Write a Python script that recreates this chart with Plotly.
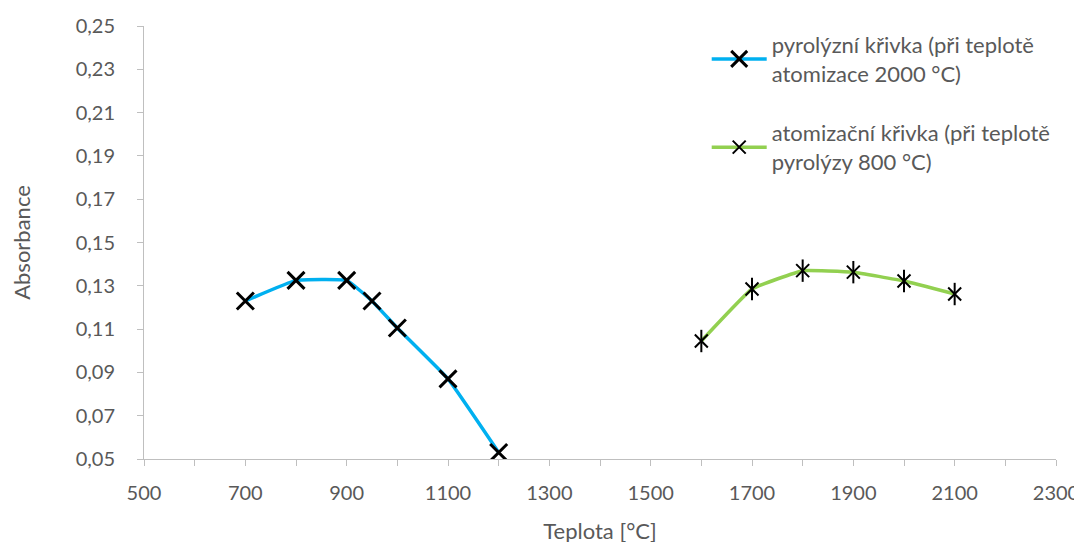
import plotly.graph_objects as go

# Data
pyro_x = [700, 800, 900, 950, 1000, 1100, 1200]
pyro_y = [0.123, 0.1325, 0.1325, 0.123, 0.1105, 0.087, 0.053]
atom_x = [1600, 1700, 1800, 1900, 2000, 2100]
atom_y = [0.1045, 0.1285, 0.137, 0.1363, 0.1322, 0.1262]

pyro_name = "pyrolýzní křivka (při teplotě<br>atomizace 2000 °C)"
atom_name = "atomizační křivka (při teplotě<br>pyrolýzy 800 °C)"

x_ticks = list(range(500, 2301, 200))
y_ticks = [0.05, 0.07, 0.09, 0.11, 0.13, 0.15, 0.17, 0.19, 0.21, 0.23, 0.25]

FONT = "Lato"
GREY = "#595959"
AXIS = "#BFBFBF"

fig = go.Figure()
fig.add_trace(go.Scatter(
    x=pyro_x, y=pyro_y, name=pyro_name, mode="lines+markers",
    legendgroup="a",
    line=dict(color="#00B0F0", width=3.5, shape="spline", smoothing=0.3),
    marker=dict(symbol="x-thin", size=17, color="black",
                line=dict(color="black", width=3)),
))
fig.add_trace(go.Scatter(
    x=atom_x, y=atom_y, name=atom_name, mode="lines+markers",
    legendgroup="b",
    line=dict(color="#92D050", width=3.5, shape="spline", smoothing=0.3),
    marker=dict(symbol="x-thin", size=13, color="black",
                line=dict(color="black", width=2)),
))
fig.add_trace(go.Scatter(
    x=atom_x, y=atom_y, mode="markers", showlegend=False,
    legendgroup="b", hoverinfo="skip",
    marker=dict(symbol="line-ns", size=16, color="black",
                line=dict(color="black", width=2)),
))

fig.update_layout(
    width=1082, height=542,
    paper_bgcolor="white", plot_bgcolor="white",
    margin=dict(l=136, r=34, t=18, b=91),
    separators=", ",
    font=dict(family=FONT, size=20, color=GREY),
    showlegend=True,
    legend=dict(x=0.617, y=1.005, xanchor="left", yanchor="top",
                font=dict(family=FONT, size=22, color=GREY),
                traceorder="grouped", tracegroupgap=28,
                itemwidth=55, bgcolor="rgba(0,0,0,0)"),
    xaxis=dict(
        range=[500, 2300], tickvals=x_ticks, automargin=False,
        showline=True, linecolor=AXIS, linewidth=1,
        ticks="outside", ticklen=6, tickcolor=AXIS, tickwidth=1,
        minor=dict(dtick=100, ticks="outside", ticklen=6, tickcolor=AXIS, tickwidth=1, showgrid=False),
        showgrid=False, zeroline=False,
        tickfont=dict(family=FONT, size=20, color=GREY),
        ticklabelstandoff=10,
        title=dict(text="Teplota [°C]", font=dict(family=FONT, size=22, color=GREY), standoff=20),
    ),
    yaxis=dict(
        range=[0.05, 0.25], tickvals=y_ticks, tickformat=".2f", automargin=False,
        showline=True, linecolor=AXIS, linewidth=1,
        ticks="outside", ticklen=6, tickcolor=AXIS, tickwidth=1,
        showgrid=False, zeroline=False,
        tickfont=dict(family=FONT, size=20, color=GREY),
        ticklabelstandoff=18,
        title=dict(text="Absorbance", font=dict(family=FONT, size=22, color=GREY), standoff=38),
    ),
)

fig.write_html("out.html")
